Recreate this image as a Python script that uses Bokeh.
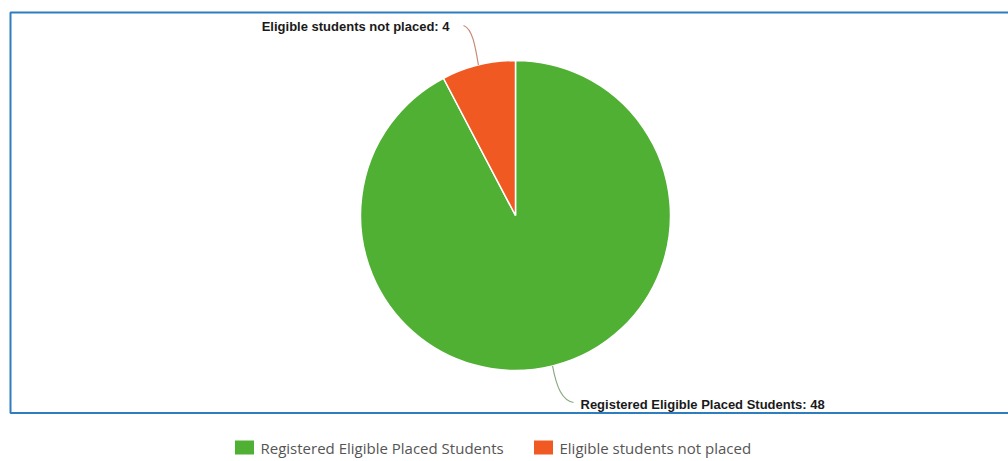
import math
from bokeh.plotting import figure
from bokeh.models import Range1d, ColumnDataSource
from bokeh.core.properties import value
from bokeh.embed import file_html
from bokeh.resources import INLINE

# ---- data ----
categories = ["Registered Eligible Placed Students", "Eligible students not placed"]
counts = [48, 4]
colors = ["#50b034", "#f05a22"]

# ---- layout (page pixels) ----
W, H = 1008, 461
def Y(py):
    return H - py

p = figure(width=W, height=H, output_backend="svg", toolbar_location=None,
           x_range=Range1d(0, W), y_range=Range1d(0, H),
           min_border=0, outline_line_color=None)
p.axis.visible = False
p.grid.visible = False
p.background_fill_color = "white"

# chart border
p.quad(left=[10], right=[1020], bottom=[Y(412.5)], top=[Y(12)],
       fill_color=None, line_color="#2f7cbf", line_width=2)

cx, cy, r = 515, Y(215), 155
total = sum(counts)
fracs = [c / total for c in counts]
top = math.pi / 2
a_or_start = top
a_or_end = top + 2 * math.pi * fracs[1]
a_gr_start = a_or_end
a_gr_end = top + 2 * math.pi
starts = [a_gr_start, a_or_start]
ends = [a_gr_end, a_or_end]
src = ColumnDataSource(dict(x=[cx, cx], y=[cy, cy], start=starts, end=ends, color=colors))
p.wedge(x="x", y="y", radius=r, radius_units="screen", start_angle="start", end_angle="end",
        direction="anticlock", fill_color="color", line_color="white", line_width=1.5, source=src)

# data labels with connectors
mids = [(s + e) / 2 for s, e in zip(starts, ends)]
font = value("Liberation Sans")
# orange label (top-left)
m = mids[1]
ex, ey = cx + r * math.cos(m), cy + r * math.sin(m)
p.bezier(x0=[ex], y0=[ey], x1=[463], y1=[Y(25)], cx0=[ex - 3], cy0=[ey + 18],
         cx1=[472], cy1=[Y(28)], line_color="#c98a78", line_width=1.2)
p.text(x=[449], y=[Y(26)], text=[f"{categories[1]}: {counts[1]}"], text_font=font,
       text_font_size="13px", text_font_style="bold", text_align="right",
       text_baseline="middle", text_color="#1a1a1a")
# green label (bottom-right)
m = mids[0]
ex, ey = cx + r * math.cos(m), cy + r * math.sin(m)
p.bezier(x0=[ex], y0=[ey], x1=[573], y1=[Y(402)], cx0=[ex + 4], cy0=[ey - 22],
         cx1=[562], cy1=[Y(400)], line_color="#8aa882", line_width=1.2)
p.text(x=[580], y=[Y(404)], text=[f"{categories[0]}: {counts[0]}"], text_font=font,
       text_font_size="13px", text_font_style="bold", text_align="left",
       text_baseline="middle", text_color="#1a1a1a")

# legend
leg_x = [244, 543]
leg_y = Y(447)
p.rect(x=leg_x, y=[leg_y, leg_y], width=19, height=14, fill_color=colors,
       line_color=None)
p.text(x=[x + 16 for x in leg_x], y=[leg_y, leg_y], text=categories,
       text_font=value("Open Sans"), text_font_size="15px", text_color="#555555",
       text_baseline="middle", text_align="left")

open("out.html", "w").write(file_html(p, INLINE))
